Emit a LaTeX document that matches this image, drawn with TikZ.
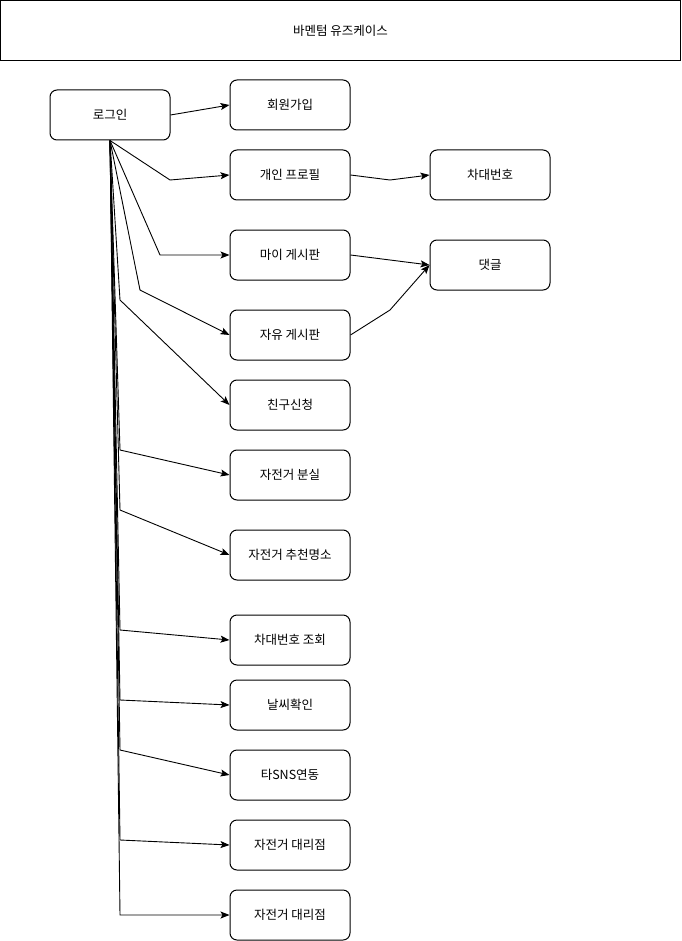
\documentclass[tikz,border=0pt]{standalone}
\usepackage{fontspec}
\setmainfont{Noto Sans CJK KR}
\usetikzlibrary{arrows.meta}
\begin{document}
\begin{tikzpicture}[x=1pt,y=-1pt,
  box/.style={draw,line width=1pt,rounded corners=7pt,minimum width=120pt,minimum height=50pt,inner sep=0pt,font=\fontsize{12.5}{14}\selectfont},
  conn/.style={draw,line width=0.9pt,-{Stealth[length=9pt,width=7pt,inset=2pt]}}]
\useasboundingbox (0,0) rectangle (681,941);
\node[draw,line width=1pt,minimum width=680pt,minimum height=60pt,inner sep=0pt,font=\fontsize{12.5}{14}\selectfont] (title) at (340.5,30.5) {바멘텀 유즈케이스};
\node[box] (login) at (110,115) {로그인};
\node[box] (signup) at (290,105) {회원가입};
\node[box] (profile) at (290,175) {개인 프로필};
\node[box] (myboard) at (290,255) {마이 게시판};
\node[box] (freeboard) at (290,335) {자유 게시판};
\node[box] (friend) at (290,405) {친구신청};
\node[box] (lost) at (290,475) {자전거 분실};
\node[box] (spot) at (290,555) {자전거 추천명소};
\node[box] (lookup) at (290,640) {차대번호 조회};
\node[box] (weather) at (290,705) {날씨확인};
\node[box] (sns) at (290,775) {타SNS연동};
\node[box] (dealer1) at (290,845) {자전거 대리점};
\node[box] (dealer2) at (290,915) {자전거 대리점};
\node[box] (frame) at (490,175) {차대번호};
\node[box] (comment) at (490,265) {댓글};
\draw[conn] (login.east) -- (signup.west);
\draw[conn] (login.south) -- (170,180) -- (profile.west);
\draw[conn] (login.south) -- (160,255) -- (myboard.west);
\draw[conn] (login.south) -- (140,290) -- (freeboard.west);
\draw[conn] (login.south) -- (120,300) -- (friend.west);
\draw[conn] (login.south) -- (120,450) -- (lost.west);
\draw[conn] (login.south) -- (120,510) -- (spot.west);
\draw[conn] (login.south) -- (120,630) -- (lookup.west);
\draw[conn] (login.south) -- (120,700) -- (weather.west);
\draw[conn] (login.south) -- (120,750) -- (sns.west);
\draw[conn] (login.south) -- (120,840) -- (dealer1.west);
\draw[conn] (login.south) -- (120,915) -- (dealer2.west);
\draw[conn] (profile.east) -- (390,180) -- (frame.west);
\draw[conn] (myboard.east) -- (comment.west);
\draw[conn] (freeboard.east) -- (390,310) -- (comment.west);
\end{tikzpicture}
\end{document}
